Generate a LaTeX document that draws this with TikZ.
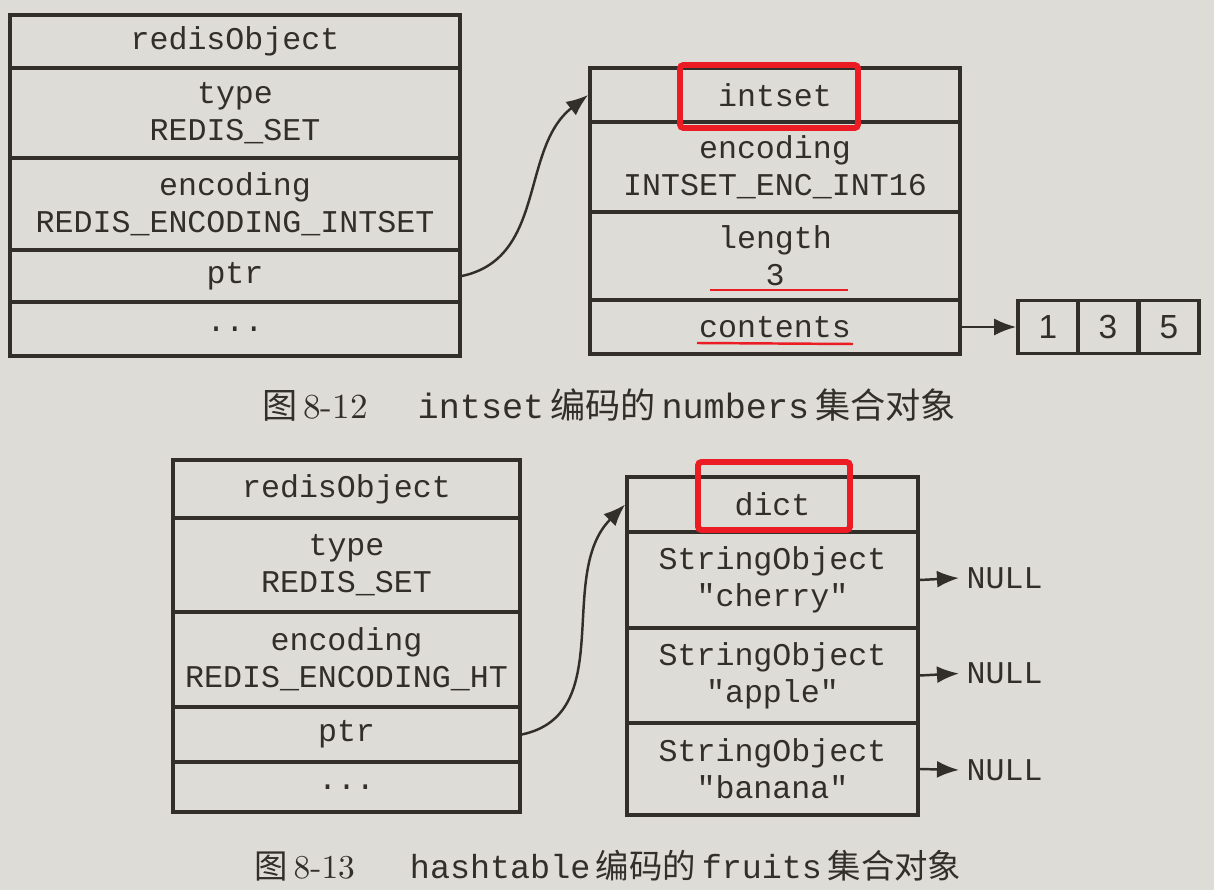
\documentclass[tikz,border=0pt]{standalone}
\usepackage{fontspec}
\setmonofont{Liberation Mono}
\setsansfont{Liberation Sans}
\newfontfamily\cjk{Noto Sans CJK SC}
\usepackage{tikz}
\usetikzlibrary{arrows.meta}
\definecolor{paper}{RGB}{222,220,214}
\definecolor{ink}{RGB}{50,46,42}
\definecolor{markred}{RGB}{236,28,36}
\tikzset{
  row/.style={draw=ink, line width=1pt, text=ink, align=center, inner sep=0pt,
    font=\ttfamily\fontsize{9}{10.5}\selectfont},
  numcell/.style={draw=ink, line width=1pt, text=ink, inner sep=0pt,
    minimum width=0.6cm, minimum height=0.53cm, font=\sffamily\fontsize{9.5}{10}\selectfont},
  nulltext/.style={text=ink, anchor=west, inner sep=2pt, font=\ttfamily\fontsize{9}{10}\selectfont},
  redmark/.style={draw=markred, line width=1.7pt, rounded corners=1pt},
  ptrarrow/.style={draw=ink, line width=0.7pt, -{Latex[length=2.2mm,width=1.7mm]}},
  caption/.style={text=ink, font=\fontsize{10}{12}\selectfont}
}

\begin{document}
\begin{tikzpicture}[x=0.01cm, y=-0.01cm]
\fill[paper] (0,0) rectangle (1214,890);

% redisObject, intset encoding
\node[row, minimum width=4.5cm, minimum height=0.53cm] (a1) at (235,41.5) {redisObject};
\node[row, minimum width=4.5cm, minimum height=0.90cm] (a2) at (235,113) {type\\REDIS\_SET};
\node[row, minimum width=4.5cm, minimum height=0.92cm] (a3) at (235,204) {encoding\\REDIS\_ENCODING\_INTSET};
\node[row, minimum width=4.5cm, minimum height=0.52cm] (a4) at (235,276) {ptr};
\node[row, minimum width=4.5cm, minimum height=0.54cm] (a5) at (235,329) {...};

\node[row, minimum width=3.7cm, minimum height=0.54cm] (i1) at (775,95) {intset};
\node[row, minimum width=3.7cm, minimum height=0.90cm] (i2) at (775,167) {encoding\\INTSET\_ENC\_INT16};
\node[row, minimum width=3.7cm, minimum height=0.88cm] (i3) at (775,256) {length\\3};
\node[row, minimum width=3.7cm, minimum height=0.54cm] (i4) at (775,327) {contents};

\foreach \v/\x [count=\k] in {1/1048,3/1108,5/1169}
  \node[numcell] (c\k) at (\x,327) {\v};

\draw[ptrarrow] (a4.east) to[out=12,in=218] (i1.west);
\draw[ptrarrow] (i4.east) -- (c1.west);

\draw[redmark] (680,65) rectangle (858,128);
\draw[markred, line width=0.7pt] (710,290) -- (848,290);
\draw[markred, line width=0.7pt] (697,343) -- (853,344);

\node[caption] (cap1) at (609,405) {{\cjk 图}\,8-12\hspace{0.5cm}{\ttfamily intset}\,{\cjk 编码的}\,{\ttfamily numbers}\,{\cjk 集合对象}};

% redisObject, hashtable encoding
\node[row, minimum width=3.47cm, minimum height=0.58cm] (b1) at (346.5,489) {redisObject};
\node[row, minimum width=3.47cm, minimum height=0.94cm] (b2) at (346.5,565) {type\\REDIS\_SET};
\node[row, minimum width=3.47cm, minimum height=0.95cm] (b3) at (346.5,659.5) {encoding\\REDIS\_ENCODING\_HT};
\node[row, minimum width=3.47cm, minimum height=0.55cm] (b4) at (346.5,734.5) {ptr};
\node[row, minimum width=3.47cm, minimum height=0.50cm] (b5) at (346.5,787) {...};

\node[row, minimum width=2.91cm, minimum height=0.55cm] (d1) at (772.5,504.5) {dict};
\node[row, minimum width=2.91cm, minimum height=0.96cm] (d2) at (772.5,580) {StringObject\\"cherry"};
\node[row, minimum width=2.91cm, minimum height=0.95cm] (d3) at (772.5,675.5) {StringObject\\"apple"};
\node[row, minimum width=2.91cm, minimum height=0.92cm] (d4) at (772.5,769) {StringObject\\"banana"};

\node[nulltext] (n1) at (959,578) {NULL};
\node[nulltext] (n2) at (959,673.5) {NULL};
\node[nulltext] (n3) at (959,770) {NULL};

\draw[ptrarrow] (b4.east) to[out=12,in=225] (d1.west);
\foreach \k/\r in {1/2,2/3,3/4}
  \draw[ptrarrow] (d\r.east) -- (n\k.west);

\draw[redmark] (698,462) rectangle (850,530);

\node[caption, font=\fontsize{9.5}{11}\selectfont] (cap2) at (608,866) {{\cjk 图}\,8-13\hspace{0.55cm}{\ttfamily hashtable}\,{\cjk 编码的}\,{\ttfamily fruits}\,{\cjk 集合对象}};
\end{tikzpicture}
\end{document}
